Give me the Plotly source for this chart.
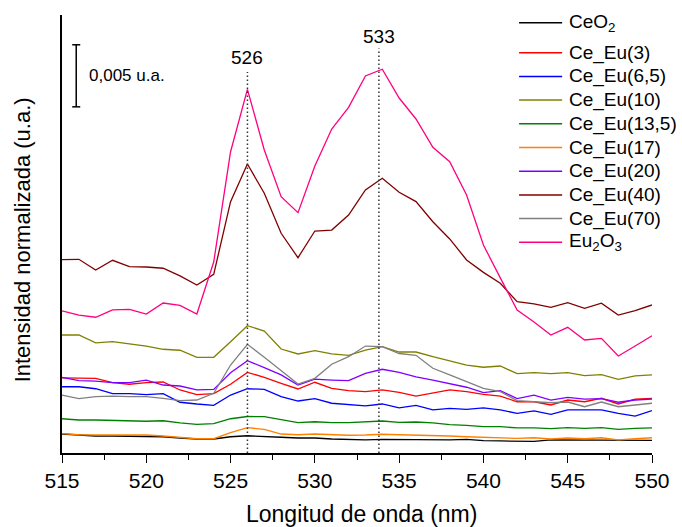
import plotly.graph_objects as go

# ---------------- data (intensity in 1e-3 u.a.) ----------------
wavelength = list(range(515, 551))  # nm

names = ["CeO<sub>2</sub>", "Ce_Eu(3)", "Ce_Eu(6,5)", "Ce_Eu(10)", "Ce_Eu(13,5)",
         "Ce_Eu(17)", "Ce_Eu(20)", "Ce_Eu(40)", "Ce_Eu(70)", "Eu<sub>2</sub>O<sub>3</sub>"]
colors = ["#000000", "#FF0000", "#0000FF", "#808000", "#008000",
          "#FF8000", "#8000FF", "#800000", "#808080", "#FF0080"]

ceo2 = [1.53, 1.45, 1.37, 1.37, 1.37, 1.37, 1.31, 1.21, 1.13, 1.13,
        1.31, 1.39, 1.31, 1.27, 1.21, 1.21, 1.13, 1.07, 1.05, 1.10,
        1.09, 1.05, 1.05, 1.05, 1.10, 0.99, 0.97, 0.97, 0.94, 1.05,
        1.05, 1.05, 1.02, 1.05, 1.02, 1.02]
ce_eu_3 = [6.05, 6.02, 6.02, 5.67, 5.54, 5.67, 5.72, 5.08, 4.70, 4.78,
           5.54, 6.50, 6.10, 5.62, 5.16, 5.70, 5.21, 5.02, 4.94, 5.08,
           4.89, 4.59, 4.86, 5.08, 4.94, 4.73, 4.59, 4.13, 4.13, 3.87,
           4.27, 4.13, 4.41, 3.95, 4.35, 4.41]
ce_eu_6_5 = [5.34, 5.34, 5.18, 4.78, 4.78, 4.70, 4.78, 4.09, 3.95, 3.84,
             4.67, 5.18, 5.13, 4.54, 4.19, 4.38, 4.01, 3.87, 3.79, 3.95,
             3.63, 3.84, 3.47, 3.60, 3.52, 3.63, 3.47, 3.20, 3.39, 3.12,
             3.47, 3.47, 3.47, 3.20, 2.98, 3.41]
ce_eu_10 = [9.51, 9.51, 8.87, 8.97, 8.79, 8.62, 8.36, 8.28, 7.71, 7.71,
            8.97, 10.26, 9.83, 8.38, 7.98, 8.25, 7.98, 7.87, 8.30, 8.57,
            8.14, 8.14, 7.76, 7.44, 7.09, 6.91, 7.01, 6.39, 6.47, 6.39,
            6.47, 6.23, 6.31, 5.94, 6.21, 6.29]
ce_eu_13_5 = [2.76, 2.66, 2.66, 2.64, 2.56, 2.56, 2.60, 2.42, 2.31, 2.36,
              2.76, 2.94, 2.93, 2.66, 2.44, 2.52, 2.44, 2.44, 2.50, 2.58,
              2.47, 2.50, 2.42, 2.28, 2.23, 2.12, 2.12, 2.02, 2.02, 1.96,
              2.04, 1.99, 2.04, 1.91, 1.99, 2.02]
ce_eu_17 = [1.56, 1.47, 1.45, 1.45, 1.45, 1.45, 1.37, 1.27, 1.15, 1.15,
            1.64, 2.04, 1.91, 1.53, 1.47, 1.53, 1.45, 1.43, 1.45, 1.51,
            1.47, 1.45, 1.37, 1.37, 1.31, 1.27, 1.23, 1.18, 1.23, 1.13,
            1.21, 1.15, 1.23, 1.05, 1.15, 1.23]
ce_eu_20 = [6.10, 5.83, 5.80, 5.67, 5.67, 5.88, 5.48, 5.40, 5.08, 5.13,
            6.47, 7.44, 6.88, 6.29, 5.48, 5.96, 5.88, 5.83, 6.42, 6.75,
            6.50, 6.13, 5.88, 5.59, 5.30, 4.86, 5.02, 4.38, 4.67, 4.27,
            4.49, 4.35, 4.38, 4.09, 4.27, 4.35]
ce_eu_40 = [15.58, 15.61, 14.75, 15.53, 15.02, 14.99, 14.89, 14.27, 13.54, 14.40,
            20.26, 23.29, 20.93, 17.71, 15.74, 17.89, 17.97, 19.18, 21.20, 22.14,
            21.01, 20.26, 18.64, 17.25, 15.56, 14.56, 13.68, 12.19, 12.01, 11.74,
            12.11, 11.66, 12.07, 11.12, 11.47, 11.93]
ce_eu_70 = [4.67, 4.38, 4.54, 4.59, 4.54, 4.54, 4.41, 4.22, 4.27, 4.81,
            7.09, 8.76, 7.71, 6.63, 5.56, 6.02, 7.15, 7.76, 8.62, 8.58,
            8.02, 7.87, 6.83, 6.29, 5.75, 5.21, 4.94, 4.22, 4.13, 4.05,
            4.11, 3.73, 4.11, 3.73, 3.87, 4.01]
eu2o3 = [11.45, 11.12, 10.94, 11.53, 11.58, 11.20, 12.09, 11.90, 11.20, 15.39,
         24.28, 29.31, 24.42, 20.66, 19.37, 23.13, 26.11, 27.86, 30.39, 30.93,
         28.61, 26.92, 24.64, 23.48, 20.79, 16.76, 14.11, 11.53, 10.56, 9.51,
         10.13, 9.11, 9.24, 7.82, 8.62, 9.45]

series = [ceo2, ce_eu_3, ce_eu_6_5, ce_eu_10, ce_eu_13_5,
          ce_eu_17, ce_eu_20, ce_eu_40, ce_eu_70, eu2o3]

peak_positions = [526, 533.8]
peak_labels = ["526", "533"]
peak_label_y = [31.84, 33.53]
peak_line_top = [30.7, 32.6]

scale_bar_length = 5.0       # = 0,005 u.a. (data stored in 1e-3 u.a.)
scale_bar_bottom = 27.9
scale_bar_text = "0,005 u.a."

x_range = [515, 550]
y_range = [0, 35.3]

FONT = "Liberation Sans, Arial, sans-serif"

fig = go.Figure()
for name, color, vals in zip(names, colors, series):
    fig.add_trace(go.Scatter(x=wavelength, y=vals, mode="lines", name=name,
                             line=dict(color=color, width=1.3), showlegend=False))

shapes = []
annotations = []

# peak guide lines + labels
for xp, lab, ly, top in zip(peak_positions, peak_labels, peak_label_y, peak_line_top):
    shapes.append(dict(type="line", xref="x", yref="y", x0=xp, x1=xp, y0=0, y1=top,
                       line=dict(color="#333333", width=1.5, dash="1.5px,2.5px")))
    annotations.append(dict(x=xp, y=ly, xref="x", yref="y", text=lab, showarrow=False,
                            xanchor="center", yanchor="middle",
                            font=dict(family=FONT, size=19, color="black")))

# scale bar
sb_x, sb_cap = 0.0241, 0.0068
sb_top = scale_bar_bottom + scale_bar_length
shapes.append(dict(type="line", xref="paper", yref="y", x0=sb_x, x1=sb_x,
                   y0=scale_bar_bottom, y1=sb_top, line=dict(color="black", width=1.5)))
for yy in (scale_bar_bottom, sb_top):
    shapes.append(dict(type="line", xref="paper", yref="y", x0=sb_x - sb_cap, x1=sb_x + sb_cap,
                       y0=yy, y1=yy, line=dict(color="black", width=1.5)))
annotations.append(dict(x=0.0416, y=scale_bar_bottom + scale_bar_length / 2, xref="paper", yref="y",
                        text=scale_bar_text, showarrow=False, xanchor="left", yanchor="middle",
                        font=dict(family=FONT, size=17, color="black")))

# legend (drawn manually to match the original spacing)
plot_top, plot_h = 15, 438
leg_line_x0, leg_line_x1, leg_text_x = 0.7747, 0.8477, 0.8561
for i, (name, color) in enumerate(zip(names, colors)):
    py = 22.7 if i == 0 else 52.7 + 23.7 * (i - 1)
    yp = 1 - (py - plot_top) / plot_h
    shapes.append(dict(type="line", xref="paper", yref="paper", x0=leg_line_x0, x1=leg_line_x1,
                       y0=yp, y1=yp, line=dict(color=color, width=1.5)))
    annotations.append(dict(x=leg_text_x, y=yp, xref="paper", yref="paper", text=name,
                            showarrow=False, xanchor="left", yanchor="middle",
                            font=dict(family=FONT, size=19, color="black")))

# axis titles
annotations.append(dict(x=0.508, y=-0.139, xref="paper", yref="paper",
                        text="Longitud de onda (nm)", showarrow=False,
                        xanchor="center", yanchor="middle",
                        font=dict(family=FONT, size=23, color="black")))
annotations.append(dict(x=-0.0674, y=0.486, xref="paper", yref="paper",
                        text="Intensidad normalizada (u.a.)", showarrow=False, textangle=-90,
                        xanchor="center", yanchor="middle",
                        font=dict(family=FONT, size=22, color="black")))

fig.update_layout(
    width=682, height=527,
    margin=dict(l=62, r=27, t=15, b=74),
    paper_bgcolor="white", plot_bgcolor="white",
    shapes=shapes, annotations=annotations,
    showlegend=False,
    font=dict(family=FONT, color="black"),
)
fig.update_xaxes(range=x_range, showgrid=False, zeroline=False,
                 showline=True, linecolor="black", linewidth=1.5,
                 ticks="outside", tickcolor="black", ticklen=8, tickwidth=1.3,
                 dtick=5, tick0=515, tickfont=dict(family=FONT, size=21, color="black"),
                 minor=dict(dtick=2.5, ticks="outside", ticklen=5, tickwidth=1.3, tickcolor="black",
                            showgrid=False))
fig.update_yaxes(range=y_range, showgrid=False, zeroline=False,
                 showline=True, linecolor="black", linewidth=1.5,
                 showticklabels=False, ticks="")

fig.write_html("out.html")
